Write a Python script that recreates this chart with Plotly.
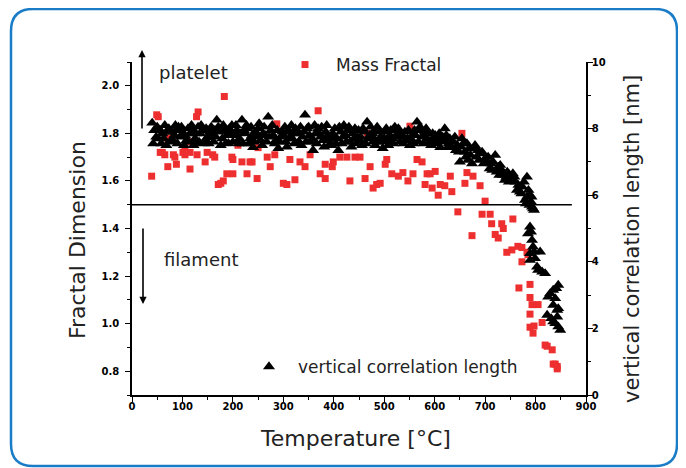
import plotly.graph_objects as go

# ---------------- data ----------------
mass_temp = [39, 49, 52, 56, 60, 65, 71, 71, 82, 85, 88, 101, 105, 105, 115, 115, 118, 128, 131, 129,
             145, 149, 160, 164, 171, 176, 181, 183, 188, 198, 200, 200, 210, 218, 228, 234, 238, 248, 250, 268,
             274, 283, 287, 300, 307, 313, 323, 333, 343, 353, 369, 373, 383, 383, 397, 399, 412, 426, 432, 442,
             452, 462, 466, 472, 478, 485, 492, 502, 505, 515, 525, 528, 537, 547, 551, 557, 565, 575, 581, 585,
             591, 595, 601, 607, 611, 620, 631, 634, 646, 654, 660, 664, 674, 676, 690, 694, 700, 710, 713, 720,
             726, 733, 736, 743, 753, 755, 765, 767, 773, 773, 783, 785, 789, 789, 793, 789, 805, 789, 795, 797,
             813, 819, 823, 833, 835, 839, 843, 843]
mass_frac = [1.62, 1.878, 1.87, 1.72, 1.72, 1.71, 1.66, 1.78, 1.71, 1.70, 1.67, 1.72, 1.74, 1.71, 1.72, 1.65, 1.765, 1.87, 1.89, 1.71,
             1.68, 1.72, 1.71, 1.70, 1.585, 1.59, 1.60, 1.955, 1.63, 1.70, 1.63, 1.69, 1.75, 1.68, 1.63, 1.68, 1.68, 1.61, 1.74, 1.70,
             1.66, 1.71, 1.84, 1.59, 1.585, 1.69, 1.605, 1.68, 1.66, 1.71, 1.895, 1.63, 1.61, 1.67, 1.66, 1.68, 1.70, 1.70, 1.60, 1.70,
             1.70, 1.61, 1.80, 1.66, 1.57, 1.585, 1.59, 1.67, 1.69, 1.63, 1.82, 1.62, 1.635, 1.60, 1.83, 1.63, 1.69, 1.68, 1.585, 1.63,
             1.63, 1.57, 1.64, 1.54, 1.585, 1.58, 1.62, 1.555, 1.47, 1.80, 1.59, 1.635, 1.37, 1.62, 1.58, 1.46, 1.515, 1.46, 1.42, 1.375,
             1.36, 1.42, 1.40, 1.30, 1.31, 1.44, 1.325, 1.15, 1.32, 1.26, 1.30, 1.29, 1.165, 1.11, 1.08, 1.04, 1.08, 0.985, 0.96, 0.99,
             1.005, 0.91, 0.905, 0.89, 0.83, 0.83, 0.81, 0.82]

corr_temp = [40, 44, 48, 52, 56, 60, 65, 70, 75, 79, 84, 88, 92, 96, 100, 105, 108, 111, 116, 120,
             125, 129, 131, 135, 140, 145, 149, 154, 159, 164, 168, 174, 179, 184, 188, 191, 195, 198, 204, 208,
             213, 218, 222, 224, 230, 234, 238, 240, 245, 250, 255, 260, 264, 270, 275, 280, 285, 290, 295, 298,
             300, 305, 309, 313, 318, 322, 326, 329, 334, 338, 343, 347, 352, 355, 359, 364, 369, 374, 379, 384,
             388, 393, 398, 402, 406, 409, 414, 418, 423, 428, 432, 437, 442, 447, 451, 456, 461, 466, 471, 476,
             480, 484, 488, 493, 497, 502, 506, 511, 516, 521, 526, 531, 536, 541, 546, 551, 556, 560, 565, 571,
             575, 580, 585, 590, 596, 601, 606, 611, 616, 620, 626, 630, 634, 640, 645, 650, 654, 660, 664, 668,
             674, 680, 686, 690, 694, 700, 706, 712, 716, 720, 726, 730, 735, 739, 744, 750, 755, 760, 766, 769,
             774, 779, 783, 783, 786, 789, 791, 793, 795, 789, 791, 785, 793, 795, 789, 797, 789, 799, 809, 803,
             805, 813, 819, 845, 841, 835, 829, 825, 839, 835, 845, 823, 831, 843, 839, 849, 845, 835, 843,
             42, 50, 58, 63, 68, 73, 81, 86, 90, 94, 98, 103, 113, 118, 122, 127, 133, 137, 142, 147,
             152, 157, 162, 166, 171, 176, 181, 186, 193, 200, 206, 211, 215, 220, 227, 232, 236, 242, 248, 252,
             258, 262, 267, 272, 278, 283, 288, 293, 303, 307, 311, 316, 320, 324, 331, 336, 341, 345, 350, 357,
             362, 366, 371, 376, 381, 386, 391, 396, 400, 404, 411, 416, 420, 425, 430, 435, 440, 444, 449, 453,
             458, 463, 468, 473, 478, 482, 486, 491, 495, 500, 504, 508, 513, 518, 523, 528, 533, 538, 543, 548,
             553, 558, 562, 568, 573, 578, 583, 588, 593, 598, 603, 609, 613, 618, 623, 628, 632, 637, 642, 648,
             652, 657, 662, 666, 671, 677, 683, 688, 697, 703, 709, 714, 723, 728, 733, 742, 747, 752, 758, 763,
             772, 777, 781, 788, 792, 797]
corr_len = [8.17, 7.95, 7.75, 7.70, 7.95, 7.85, 8.10, 7.90, 7.60, 7.90, 7.80, 7.95, 8.05, 7.75, 7.85, 7.80, 7.65, 8.00, 7.85, 7.95,
            7.70, 7.56, 8.05, 7.85, 7.95, 7.65, 7.74, 7.90, 7.80, 7.95, 8.26, 7.90, 7.70, 7.95, 7.80, 7.56, 7.85, 8.10, 7.80, 7.95,
            7.70, 8.26, 7.95, 7.86, 8.00, 7.70, 7.80, 7.44, 7.90, 8.00, 7.65, 7.85, 7.80, 8.35, 7.95, 7.80, 7.65, 7.41, 7.75, 7.90,
            7.80, 7.60, 7.95, 7.90, 7.70, 7.55, 7.85, 7.90, 8.05, 7.75, 8.41, 8.00, 7.80, 7.60, 7.35, 7.85, 8.00, 7.75, 7.65, 7.90,
            7.80, 7.55, 7.85, 8.00, 7.70, 7.35, 7.90, 7.75, 7.80, 7.95, 7.60, 7.85, 8.00, 7.75, 7.65, 7.50, 7.90, 8.20, 7.80, 7.86,
            7.70, 7.95, 7.60, 7.75, 7.41, 7.90, 7.65, 7.80, 7.70, 8.05, 7.85, 7.60, 7.75, 7.90, 7.70, 7.50, 7.80, 7.95, 8.20, 8.05,
            7.75, 7.90, 7.70, 7.60, 7.85, 7.80, 7.65, 7.44, 7.75, 8.00, 7.44, 7.70, 7.60, 7.75, 7.50, 7.00, 7.70, 7.30, 7.55, 7.40,
            6.95, 7.50, 7.35, 7.25, 7.30, 7.10, 7.15, 6.95, 7.00, 7.20, 6.85, 6.90, 6.60, 6.45, 6.70, 6.55, 6.65, 6.40, 6.30, 6.10,
            6.25, 5.85, 6.55, 5.95, 6.15, 6.00, 5.80, 5.65, 5.60, 5.05, 4.90, 4.85, 4.65, 4.45, 4.25, 4.30, 4.05, 4.10, 4.30, 3.85,
            3.75, 3.70, 3.65, 3.30, 3.20, 3.15, 3.05, 2.95, 2.90, 2.70, 2.60, 2.40, 2.30, 2.35, 2.15, 1.95, 2.05, 2.20, 2.55,
            7.55, 8.05, 7.55, 7.70, 7.50, 8.00, 7.65, 8.10, 7.55, 7.95, 8.05, 7.50, 7.60, 8.10, 7.50, 7.85, 7.60, 8.10, 7.55, 8.00,
            7.55, 8.05, 7.60, 7.75, 8.05, 7.50, 8.10, 7.55, 8.00, 7.60, 8.10, 7.55, 7.85, 7.55, 8.10, 7.55, 8.05, 7.60, 7.75, 8.15,
            7.50, 8.05, 7.60, 7.75, 8.10, 7.55, 7.95, 7.60, 8.05, 7.45, 7.70, 8.10, 7.85, 8.00, 7.60, 7.50, 7.90, 7.60, 8.05, 7.70,
            8.10, 7.55, 7.85, 8.05, 7.45, 8.10, 7.70, 7.50, 7.70, 7.55, 8.05, 7.55, 8.10, 7.60, 8.05, 7.45, 7.70, 7.55, 7.95, 7.75,
            8.00, 7.55, 7.70, 8.05, 7.60, 7.50, 8.05, 7.90, 7.60, 7.70, 8.00, 7.50, 7.95, 7.55, 7.75, 8.00, 7.85, 7.55, 7.65, 7.95,
            7.70, 7.55, 7.80, 7.60, 7.95, 7.55, 8.00, 7.85, 7.50, 7.70, 7.55, 7.85, 7.60, 7.65, 7.80, 7.55, 7.45, 7.60, 7.35, 7.30,
            7.45, 7.55, 7.15, 7.05, 7.20, 7.40, 7.15, 7.05, 6.95, 7.00, 6.80, 6.75, 6.70, 6.60, 6.75, 6.55, 6.40, 6.50, 6.55, 6.15,
            6.05, 6.40, 5.75, 5.70, 5.95, 5.55]

x_ticks = [0, 100, 200, 300, 400, 500, 600, 700, 800, 900]
y_ticks = [0.8, 1.0, 1.2, 1.4, 1.6, 1.8, 2.0]
y_ticktext = ["0.8", "1.0", "1.2", "1.4", "1.6", "1.8", "2.0"]
y2_ticks = [0, 2, 4, 6, 8, 10]
boundary = 1.5
boundary_end = 872

# ---------------- geometry helpers ----------------
# the page adds an 8 px body margin, so the figure is built 8 px smaller on each side
OFF = 8
W, H = 686 - OFF, 468 - OFF
PLOT_L, PLOT_R, PLOT_T, PLOT_B = 132, 586, 62, 395     # plot area in page pixels
L, T = PLOT_L - OFF, PLOT_T - OFF
R, B = W - (PLOT_R - OFF), H - (PLOT_B - OFF)
PW = PLOT_R - PLOT_L
PH = PLOT_B - PLOT_T


def fx(px):
    return (px - PLOT_L) / PW


def fy(py):
    return (PLOT_B - py) / PH


TXT = "#222222"
FONT = "DejaVu Sans"
tickfont = dict(family=FONT, size=10, color="black", weight="bold")

fig = go.Figure()

fig.add_trace(go.Scatter(
    x=mass_temp, y=mass_frac, mode="markers", name="Mass Fractal",
    marker=dict(symbol="square", size=7, color="#ee2f2f", line=dict(width=0)),
    legend="legend", yaxis="y",
))
fig.add_trace(go.Scatter(
    x=corr_temp, y=corr_len, mode="markers", name="vertical correlation length",
    marker=dict(symbol="triangle-up", size=10.5, color="black", line=dict(width=0)),
    legend="legend2", yaxis="y2",
))

axis_common = dict(showline=True, linecolor="black", linewidth=1.6, showgrid=False, zeroline=False,
                   ticks="outside", ticklen=5, tickwidth=1.4, tickcolor="black", tickfont=tickfont)

fig.update_layout(
    width=W, height=H,
    margin=dict(l=L, r=R, t=T, b=B, pad=0),
    paper_bgcolor="white", plot_bgcolor="white",
    xaxis=dict(range=[0, 900], tickvals=x_ticks, ticklabelstandoff=-4,
               minor=dict(dtick=50, tick0=0, ticks="outside", ticklen=3, tickwidth=1.2, tickcolor="black"),
               **axis_common),
    yaxis=dict(range=[0.7, 2.1], tickvals=y_ticks, ticktext=y_ticktext, ticklabelstandoff=4,
               minor=dict(dtick=0.1, tick0=0.7, ticks="outside", ticklen=3, tickwidth=1.2, tickcolor="black"),
               **axis_common),
    yaxis2=dict(range=[0, 10], tickvals=y2_ticks, overlaying="y", side="right", ticklabelstandoff=-3,
                minor=dict(dtick=1, tick0=0, ticks="outside", ticklen=3, tickwidth=1.2, tickcolor="black"),
                **axis_common),
    legend=dict(x=fx(274), y=fy(65), xanchor="left", yanchor="middle", itemwidth=52,
                bgcolor="rgba(0,0,0,0)", borderwidth=0,
                font=dict(family=FONT, size=17, color=TXT)),
    legend2=dict(x=fx(240), y=fy(367), xanchor="left", yanchor="middle", itemwidth=48,
                 bgcolor="rgba(0,0,0,0)", borderwidth=0,
                 font=dict(family=FONT, size=17, color=TXT)),
    showlegend=True,
)

# boundary line between platelet and filament regimes
fig.add_shape(type="line", xref="x", yref="y", x0=0, x1=boundary_end, y0=boundary, y1=boundary,
              line=dict(color="black", width=1.6))

# rounded blue frame (page pixels)
x0, x1, y0, y1, rad = 11, 677, 9, 466, 22
rx, ry = rad / PW, rad / PH
X0, X1, Y0, Y1 = fx(x0), fx(x1), fy(y0), fy(y1)
path = (f"M {X0 + rx},{Y0} L {X1 - rx},{Y0} Q {X1},{Y0} {X1},{Y0 - ry} "
        f"L {X1},{Y1 + ry} Q {X1},{Y1} {X1 - rx},{Y1} "
        f"L {X0 + rx},{Y1} Q {X0},{Y1} {X0},{Y1 + ry} "
        f"L {X0},{Y0 - ry} Q {X0},{Y0} {X0 + rx},{Y0} Z")
fig.add_shape(type="path", xref="paper", yref="paper", path=path,
              line=dict(color="#1a7cc6", width=2.5), fillcolor="rgba(0,0,0,0)")


def label(text, px, py, size, angle=0, xanchor="center"):
    fig.add_annotation(text=text, xref="paper", yref="paper", x=fx(px), y=fy(py),
                       xanchor=xanchor, yanchor="middle", textangle=angle, showarrow=False,
                       font=dict(family=FONT, size=size, color=TXT))


# axis titles
label("Fractal Dimension", 78, 240, 22, angle=-90)
label("Temperature [°C]", 355, 439, 22)
label("vertical correlation length [nm]", 632, 239, 21, angle=-90)

# regime labels and arrows
label("platelet", 157, 72, 18, xanchor="left")
label("filament", 162, 260, 18, xanchor="left")
fig.add_annotation(text="", xref="paper", yref="paper", x=fx(142), y=fy(50), ax=0, ay=80,
                   showarrow=True, arrowhead=2, arrowsize=0.9, arrowwidth=1.6, arrowcolor="black", standoff=0)
fig.add_annotation(text="", xref="paper", yref="paper", x=fx(143), y=fy(304), ax=0, ay=-77,
                   showarrow=True, arrowhead=2, arrowsize=0.9, arrowwidth=1.6, arrowcolor="black", standoff=0)

fig.write_html("out.html")
